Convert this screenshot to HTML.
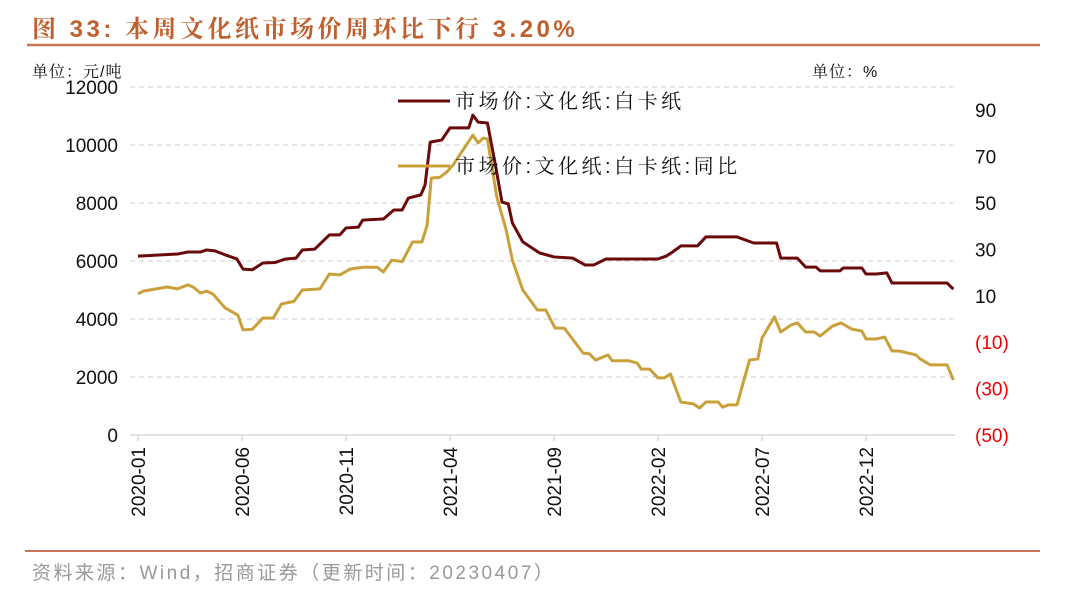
<!DOCTYPE html>
<html><head><meta charset="utf-8">
<style>
body{margin:0;background:#fff;width:1080px;height:593px;overflow:hidden;font-family:"Liberation Sans","Noto Sans CJK SC",sans-serif;}
svg text{font-family:"Liberation Sans","Noto Sans CJK SC",sans-serif;}
svg text.serif{font-family:"Liberation Sans","Noto Serif CJK SC",serif;}
</style></head>
<body>
<svg id="chart" width="1080" height="593" xmlns="http://www.w3.org/2000/svg">
<text class="serif" x="32" y="37" font-size="24" font-weight="bold" fill="#c0602e" letter-spacing="3.5">图 33:  本周文化纸市场价周环比下行 3.20%</text>
<line x1="27" y1="45" x2="1040" y2="45" stroke="#c87457" stroke-width="2.5"/>
<text class="serif" x="32" y="77" font-size="16" fill="#111" letter-spacing="1">单位：元/吨</text>
<text class="serif" x="812" y="77" font-size="16" fill="#111" letter-spacing="1">单位：%</text>
<g id="grid"></g>
<g id="axes"></g>
<g id="series"></g>
<g>
<line x1="398" y1="101" x2="450" y2="101" stroke="#6b0a0a" stroke-width="3"/>
<text class="serif" x="455" y="108" font-size="20" fill="#111" letter-spacing="3.5">市场价:文化纸:白卡纸</text>
<line x1="398" y1="166" x2="450" y2="166" stroke="#c9a03a" stroke-width="3"/>
<text class="serif" x="455" y="173" font-size="20" fill="#111" letter-spacing="3.5">市场价:文化纸:白卡纸:同比</text>
</g>
<line x1="25" y1="551" x2="1040" y2="551" stroke="#c87457" stroke-width="2"/>
<text x="32" y="579" font-size="19" fill="#999" letter-spacing="2.5">资料来源：Wind，招商证券（更新时间：20230407）</text>
</svg>
<script>
const leftTicks=[0,2000,4000,6000,8000,10000,12000];
const rightTicks=[90,70,50,30,10,-10,-30,-50];
const xTickLabels=["2020-01","2020-06","2020-11","2021-04","2021-09","2022-02","2022-07","2022-12"];
const xTickMonths=[0,5,10,15,20,25,30,35];
const priceMonths=[0,1.9,2.4,3,3.3,3.7,4.2,4.75,5.05,5.5,6,6.6,7.1,7.6,7.9,8.5,9.2,9.7,10,10.6,10.8,11.8,12.3,12.7,13,13.6,13.8,14.05,14.6,15,15.9,16.1,16.35,16.8,17.2,17.5,17.8,18,18.5,19.3,20,20.9,21.5,21.9,22.5,25,25.4,25.7,26.1,26.9,27.3,28.8,29.6,30.7,30.9,31.7,32.1,32.6,32.8,33.75,33.9,34.8,35,35.5,36,36.25,38.9,39.2];
const priceValues=[6170,6240,6310,6310,6380,6350,6210,6070,5720,5700,5930,5950,6070,6100,6380,6410,6900,6900,7140,7170,7410,7450,7760,7760,8170,8280,8620,10100,10170,10590,10590,11030,10790,10760,9240,8030,7970,7310,6660,6280,6140,6100,5860,5860,6070,6070,6170,6310,6520,6520,6830,6830,6620,6620,6100,6100,5790,5790,5660,5660,5760,5760,5550,5550,5590,5240,5240,5030];
const yoyMonths=[0,0.25,1.4,1.9,2.4,2.65,3,3.3,3.6,4.2,4.8,5.05,5.5,6,6.5,6.9,7.5,7.9,8.75,9.2,9.7,10.2,10.8,11.5,11.8,12.2,12.7,13.2,13.65,13.9,14.1,14.5,14.85,15.15,16.1,16.35,16.6,16.8,17.25,17.7,18,18.5,19.2,19.6,20.05,20.5,21.4,21.7,22,22.6,22.8,23.6,24,24.2,24.6,25,25.3,25.6,25.7,26.1,26.7,27,27.3,27.9,28.1,28.4,28.8,29.4,29.8,30,30.6,30.9,31.4,31.7,32.1,32.5,32.8,33.4,33.8,34.3,34.8,35,35.5,35.9,36.25,36.6,37.4,37.6,38.1,38.9,39.2];
const yoyValues=[10.8,12,13.8,13,14.7,13.8,11.2,12,10.8,4.7,1.7,-4.7,-4.4,0.4,0.4,6.5,7.6,12.5,13,19.4,19,21.5,22.3,22.3,20.3,25.4,24.7,33.2,33.2,40.5,60.8,61,63.4,66.4,79.3,75.9,78,77.6,52.6,38.4,25.4,12.5,3.9,3.9,-3.9,-4,-14.7,-15,-17.7,-15.5,-18,-18,-19,-21.6,-21.6,-25.4,-25.4,-23.7,-26.3,-35.8,-36.6,-38.4,-35.8,-35.8,-38,-37,-37,-17.7,-17.2,-8.2,0.9,-5.6,-2.6,-1.7,-5.6,-5.6,-7.3,-3,-1.7,-4.3,-5.2,-8.6,-8.6,-7.8,-13.8,-13.8,-15.5,-17.2,-19.8,-19.8,-26.3];

const NS="http://www.w3.org/2000/svg";
const xScale=m=>138+m*20.8;
const yLeft=v=>435-v*(348/12000);
const yRight=v=>435-(v+50)*2.32;
function mk(tag,attrs,parent,txt){const e=document.createElementNS(NS,tag);for(const k in attrs)e.setAttribute(k,attrs[k]);if(txt!==undefined)e.textContent=txt;parent.appendChild(e);return e;}
const grid=document.getElementById('grid'),axes=document.getElementById('axes'),series=document.getElementById('series');
leftTicks.forEach(v=>{
  if(v>0){const g=mk('line',{x1:130,x2:955,y1:yLeft(v),y2:yLeft(v),stroke:'#ccc','stroke-dasharray':'5,4','stroke-width':1},grid);
  
  }
  const t=mk('text',{x:118,y:yLeft(v)+7,'text-anchor':'end','font-size':19,fill:'#111'},axes,String(v));
  
  
});
rightTicks.forEach(v=>{
  const t=mk('text',{x:975,y:yRight(v)+7,'font-size':19,fill:v<0?'#e00':'#111'},axes,v<0?'('+(-v)+')':String(v));
  
  
});
const ax=mk('line',{x1:130,x2:955,y1:435,y2:435,stroke:'#d9d9d9','stroke-width':1.5},axes);


xTickLabels.forEach((lab,i)=>{
  const x=xScale(xTickMonths[i]);
  const tk=mk('line',{x1:x,x2:x,y1:435,y2:441,stroke:'#d9d9d9','stroke-width':1.5},axes);
  
  
  const t=mk('text',{x:0,y:0,'text-anchor':'end','font-size':19,fill:'#111',transform:`translate(${x+7},447) rotate(-90)`},axes,lab);
  
  
});
const yp=mk('polyline',{points:yoyMonths.map((m,i)=>xScale(m)+','+yRight(yoyValues[i])).join(' '),fill:'none',stroke:'#c9a03a','stroke-width':3,'stroke-linejoin':'round'},series);


const pp=mk('polyline',{points:priceMonths.map((m,i)=>xScale(m)+','+yLeft(priceValues[i])).join(' '),fill:'none',stroke:'#6b0a0a','stroke-width':3,'stroke-linejoin':'round'},series);


</script>
</body></html>
